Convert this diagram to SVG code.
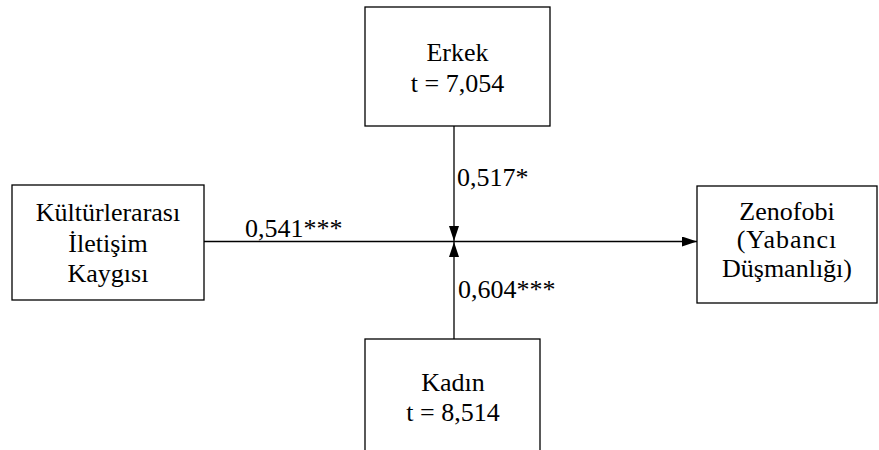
<svg xmlns="http://www.w3.org/2000/svg" width="879" height="450" viewBox="0 0 879 450">
<defs>
<style>
.box{fill:#fff;stroke:#000;stroke-width:1.3}
text{font-family:'Liberation Serif','Times New Roman',Tinos,'DejaVu Serif',serif;font-size:26px;fill:#000}
.c{text-anchor:middle}
.ln{stroke:#000;stroke-width:1.3;fill:none}
</style>
<marker id="ah" viewBox="0 0 15 10" refX="15" refY="5" markerWidth="15" markerHeight="10" markerUnits="userSpaceOnUse" orient="auto">
<path d="M0,0 L15,5 L0,10 Z" fill="#000"/>
</marker>
</defs>
<rect width="879" height="450" fill="#fff"/>
<g id="connectors" font-family="Liberation Serif, serif">
<line class="ln" x1="204" y1="241.5" x2="697" y2="241.5" marker-end="url(#ah)"/>
<line class="ln" x1="454" y1="126" x2="454" y2="241" marker-end="url(#ah)"/>
<line class="ln" x1="454" y1="339" x2="454" y2="242" marker-end="url(#ah)"/>
<text x="457" y="186">0,517*</text>
<text x="458" y="298">0,604***</text>
<text x="245" y="237">0,541***</text>
</g>
<g id="erkek" font-family="Liberation Serif, serif">
<rect class="box" x="365" y="7" width="185" height="119"/>
<text class="c" x="457.5" y="61">Erkek</text>
<text class="c" x="457.5" y="92">t = 7,054</text>
</g>
<g id="kadin" font-family="Liberation Serif, serif">
<rect class="box" x="365" y="339" width="175" height="140"/>
<text class="c" x="453" y="391">Kadın</text>
<text class="c" x="453" y="421">t = 8,514</text>
</g>
<g id="kulturlerarasi" font-family="Liberation Serif, serif">
<rect class="box" x="12" y="185" width="192" height="115"/>
<text class="c" x="108" y="221">Kültürlerarası</text>
<text class="c" x="108" y="252">İletişim</text>
<text class="c" x="108" y="282">Kaygısı</text>
</g>
<g id="zenofobi" font-family="Liberation Serif, serif">
<rect class="box" x="697" y="186" width="180" height="117"/>
<text class="c" x="787" y="220">Zenofobi</text>
<text class="c" x="787" y="248" letter-spacing="1">(Yabancı</text>
<text class="c" x="787" y="277">Düşmanlığı)</text>
</g>
</svg>
